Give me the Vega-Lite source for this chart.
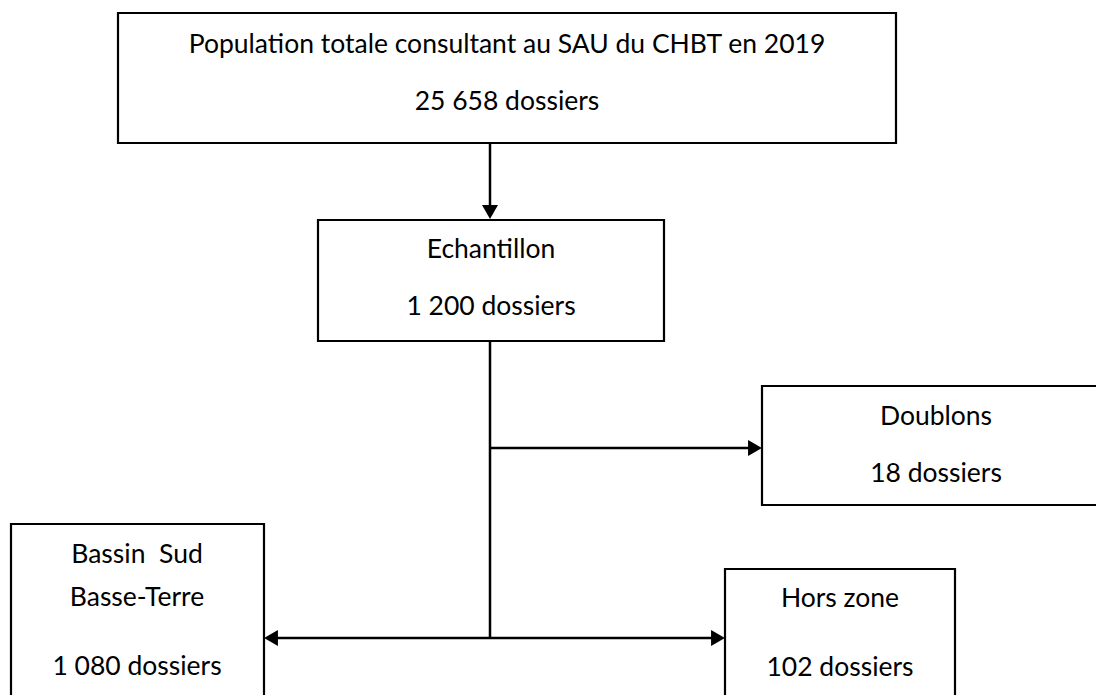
{
  "$schema": "https://vega.github.io/schema/vega-lite/v6.json",
  "width": 1096,
  "height": 695,
  "padding": 0,
  "autosize": {"type": "fit", "contains": "padding"},
  "background": "white",
  "config": {"view": {"stroke": null}},
  "datasets": {
    "boxes": [
      {"box": "Population totale", "x0": 118, "x1": 896, "y0": 13, "y1": 143},
      {"box": "Echantillon", "x0": 318, "x1": 664, "y0": 220, "y1": 341},
      {"box": "Doublons", "x0": 762, "x1": 1110, "y0": 386, "y1": 505},
      {"box": "Bassin Sud Basse-Terre", "x0": 11, "x1": 264, "y0": 524, "y1": 710},
      {"box": "Hors zone", "x0": 725, "x1": 955, "y0": 569, "y1": 710}
    ],
    "links": [
      {"link": "population-echantillon", "x0": 490, "x1": 490, "y0": 143, "y1": 212},
      {"link": "echantillon-tronc", "x0": 490, "x1": 490, "y0": 341, "y1": 638},
      {"link": "tronc-doublons", "x0": 490, "x1": 755, "y0": 448, "y1": 448},
      {"link": "bassin-horszone", "x0": 271, "x1": 718, "y0": 638, "y1": 638}
    ],
    "heads": [
      {"head": "vers Echantillon", "x": 490, "y": 212, "dir": "triangle-down"},
      {"head": "vers Doublons", "x": 755, "y": 448, "dir": "triangle-right"},
      {"head": "vers Bassin Sud", "x": 271, "y": 638, "dir": "triangle-left"},
      {"head": "vers Hors zone", "x": 718, "y": 638, "dir": "triangle-right"}
    ],
    "labels": [
      {"label": "Population totale consultant au SAU du CHBT en 2019", "x": 507, "y": 45},
      {"label": "25 658 dossiers", "x": 507, "y": 102},
      {"label": "Echantillon", "x": 491, "y": 250},
      {"label": "1 200 dossiers", "x": 491, "y": 307},
      {"label": "Doublons", "x": 936, "y": 417},
      {"label": "18 dossiers", "x": 936, "y": 474},
      {"label": "Bassin\u00a0 Sud", "x": 137, "y": 555},
      {"label": "Basse-Terre", "x": 137, "y": 598},
      {"label": "1 080 dossiers", "x": 137, "y": 667},
      {"label": "Hors zone", "x": 840, "y": 599},
      {"label": "102 dossiers", "x": 840, "y": 668}
    ]
  },
  "layer": [
    {
      "data": {"name": "boxes"},
      "mark": {"type": "rect", "fill": "white", "stroke": "black", "strokeWidth": 2.2, "clip": true},
      "encoding": {
        "x": {"field": "x0", "type": "quantitative", "scale": {"domain": [0, 1096], "nice": false, "zero": false}, "axis": null},
        "x2": {"field": "x1"},
        "y": {"field": "y0", "type": "quantitative", "scale": {"domain": [0, 695], "nice": false, "zero": false, "reverse": true}, "axis": null},
        "y2": {"field": "y1"}
      }
    },
    {
      "data": {"name": "links"},
      "mark": {"type": "rule", "stroke": "black", "strokeWidth": 2.5},
      "encoding": {
        "x": {"field": "x0", "type": "quantitative", "scale": {"domain": [0, 1096], "nice": false, "zero": false}, "axis": null},
        "x2": {"field": "x1"},
        "y": {"field": "y0", "type": "quantitative", "scale": {"domain": [0, 695], "nice": false, "zero": false, "reverse": true}, "axis": null},
        "y2": {"field": "y1"}
      }
    },
    {
      "data": {"name": "heads"},
      "mark": {"type": "point", "filled": true, "color": "black", "opacity": 1, "size": 256},
      "encoding": {
        "x": {"field": "x", "type": "quantitative", "scale": {"domain": [0, 1096], "nice": false, "zero": false}, "axis": null},
        "y": {"field": "y", "type": "quantitative", "scale": {"domain": [0, 695], "nice": false, "zero": false, "reverse": true}, "axis": null},
        "shape": {"field": "dir", "type": "nominal", "scale": null, "legend": null}
      }
    },
    {
      "data": {"name": "labels"},
      "mark": {"type": "text", "font": "Lato", "fontSize": 26.5, "color": "black", "align": "center", "baseline": "middle"},
      "encoding": {
        "x": {"field": "x", "type": "quantitative", "scale": {"domain": [0, 1096], "nice": false, "zero": false}, "axis": null},
        "y": {"field": "y", "type": "quantitative", "scale": {"domain": [0, 695], "nice": false, "zero": false, "reverse": true}, "axis": null},
        "text": {"field": "label", "type": "nominal"}
      }
    }
  ]
}
